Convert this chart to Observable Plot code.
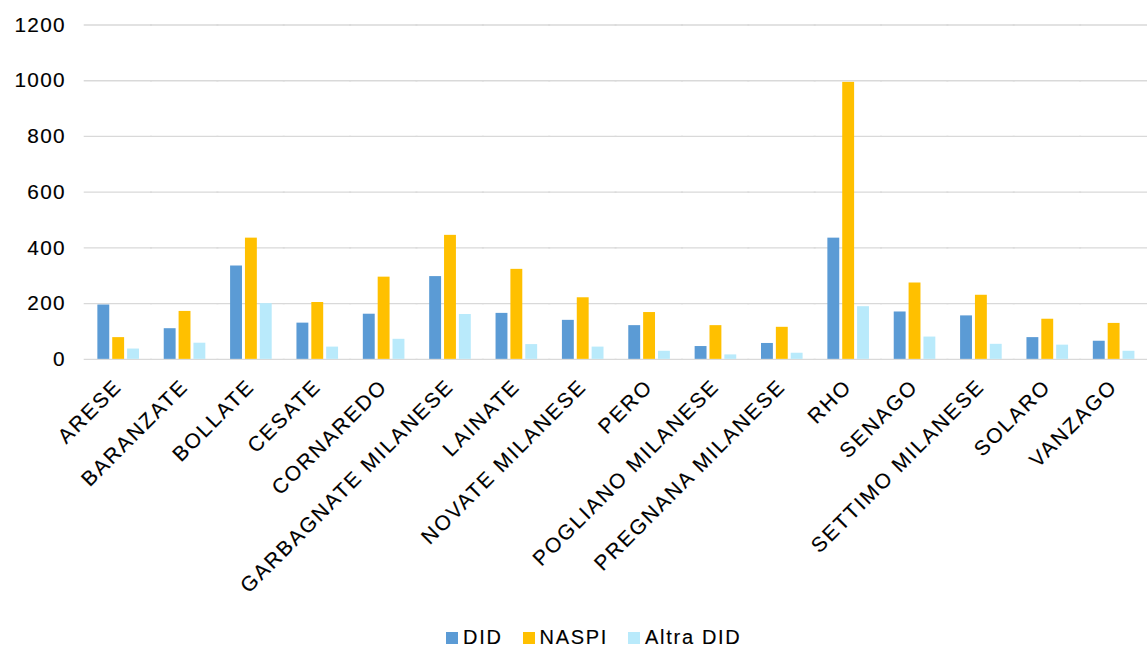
<!DOCTYPE html>
<html>
<head>
<meta charset="utf-8">
<script src="https://cdn.jsdelivr.net/npm/d3@7"></script>
<script src="https://cdn.jsdelivr.net/npm/@observablehq/plot@0.6"></script>
<style>
  html, body { margin: 0; padding: 0; background: #fff; }
  #wrap { position: relative; width: 1147px; height: 648px; overflow: hidden; background: #fff; }
  #chart { position: absolute; left: 0; top: 0; }
  #legend { position: absolute; left: 446px; top: 626px; display: flex; align-items: center;
            font-family: "Liberation Sans", Arial, sans-serif; font-size: 20px; letter-spacing: 1.7px; color: #000; white-space: nowrap;
            -webkit-text-stroke: 0.15px #000; }
  .item { display: flex; align-items: center; margin-right: 20px; }
  .sw { width: 12px; height: 12px; margin-right: 5px; }
  #chart text { stroke: #000; stroke-width: 0.15px; }
  #chart [aria-label="fx-axis tick label"] text { letter-spacing: 2px; }
</style>
</head>
<body>
<div id="wrap"><div id="chart"></div><div id="legend"></div></div>
<script>
const categories = ["ARESE","BARANZATE","BOLLATE","CESATE","CORNAREDO","GARBAGNATE MILANESE","LAINATE","NOVATE MILANESE","PERO","POGLIANO MILANESE","PREGNANA MILANESE","RHO","SENAGO","SETTIMO MILANESE","SOLARO","VANZAGO"];
const series = ["DID","NASPI","Altra DID"];
const did   = [195,110,335,130,162,297,165,140,121,46,57,435,170,156,78,65];
const naspi = [78,172,435,204,295,445,323,221,168,121,115,994,274,230,144,129];
const altra = [37,58,200,44,72,161,53,44,29,16,22,189,80,54,51,29];
const yTicks = [0,200,400,600,800,1000,1200];
const colors = ["#5B9BD5","#FFC000","#B9EAFB"];

const values = [did, naspi, altra];
const data = categories.flatMap((c, i) => series.map((s, j) => ({cat: c, series: s, value: values[j][i]})));

const chart = Plot.plot({
  width: 1158,
  height: 610,
  marginLeft: 83.7,
  marginRight: 0,
  marginTop: 24.7,
  marginBottom: 247.7,
  style: {fontFamily: "'Liberation Sans', Arial, sans-serif", fontSize: "21px", letterSpacing: "1.3px", color: "#000", background: "#fff"},
  fx: {domain: categories, paddingInner: 0.38, paddingOuter: 0.19, label: null},
  x: {domain: series, paddingInner: 0.23, paddingOuter: 0, axis: null},
  y: {domain: [0, 1200], label: null},
  color: {domain: series, range: colors},
  marks: [
    Plot.ruleY(yTicks, {stroke: "#d9d9d9", strokeWidth: 1.4, insetLeft: -13.5, insetRight: -13.5}),
    Plot.barY(data, {fx: "cat", x: "series", y: "value", fill: "series"}),
    Plot.axisY(yTicks, {tickSize: 0, tickPadding: 32, label: null, tickFormat: d => String(d), fontSize: 21}),
    Plot.axisFx({anchor: "bottom", tickRotate: -45, tickSize: 0, tickPadding: 24, label: null, fontSize: 21})
  ]
});
document.getElementById("chart").appendChild(chart);

const legend = document.getElementById("legend");
series.forEach((s, i) => {
  const item = document.createElement("div");
  item.className = "item";
  const sw = document.createElement("div");
  sw.className = "sw";
  sw.style.background = colors[i];
  const t = document.createElement("span");
  t.textContent = s;
  item.appendChild(sw);
  item.appendChild(t);
  legend.appendChild(item);
});
</script>
</body>
</html>
